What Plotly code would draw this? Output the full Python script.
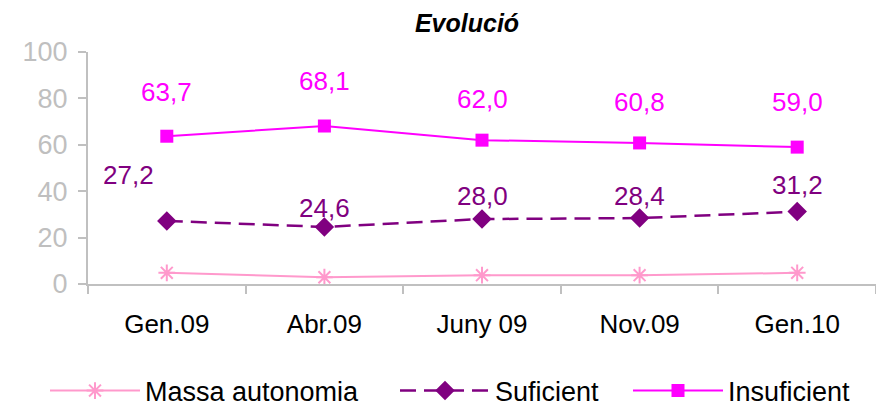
import plotly.graph_objects as go

categories = ["Gen.09", "Abr.09", "Juny 09", "Nov.09", "Gen.10"]
massa_autonomia = [4.8, 2.9, 3.8, 3.8, 4.8]
suficient = [27.2, 24.6, 28.0, 28.4, 31.2]
insuficient = [63.7, 68.1, 62.0, 60.8, 59.0]
y_ticks = [0, 20, 40, 60, 80, 100]

# label placement offsets (pixels) - layout only
suf_label_shift = [(-38, 46), (0, 19), (0, 23), (0, 22), (0, 27)]
ins_label_shift = [(0, 44), (0, 45), (0, 41), (0, 41), (0, 45)]

PINK = "#FF99CC"
PURPLE = "#800080"
MAGENTA = "#FF00FF"
GREY = "#C0C0C0"
FONT = "Liberation Sans, Arial, sans-serif"

fig = go.Figure()
fig.add_trace(go.Scatter(
    x=categories, y=massa_autonomia, name="Massa autonomia", mode="lines+markers",
    line=dict(color=PINK, width=2),
    marker=dict(symbol="asterisk-open", size=14, line=dict(color=PINK, width=2), color=PINK),
    legend="legend",
))
fig.add_trace(go.Scatter(
    x=categories, y=suficient, name="Suficient", mode="lines+markers",
    line=dict(color=PURPLE, width=2.5, dash="16px,8px"),
    marker=dict(symbol="diamond", size=15, color=PURPLE),
    legend="legend2",
))
fig.add_trace(go.Scatter(
    x=categories, y=insuficient, name="Insuficient", mode="lines+markers",
    line=dict(color=MAGENTA, width=2),
    marker=dict(symbol="square", size=13, color=MAGENTA),
    legend="legend3",
))

def fmt(v):
    return f"{v:.1f}".replace(".", ",")

for c, v, (dx, dy) in zip(categories, suficient, suf_label_shift):
    fig.add_annotation(x=c, y=v, text=fmt(v), showarrow=False, xshift=dx, yshift=dy,
                       font=dict(family=FONT, size=26, color=PURPLE))
for c, v, (dx, dy) in zip(categories, insuficient, ins_label_shift):
    fig.add_annotation(x=c, y=v, text=fmt(v), showarrow=False, xshift=dx, yshift=dy,
                       font=dict(family=FONT, size=26, color=MAGENTA))

# page body has an 8px margin: figure drawn at (8, 8) in the window
W, H = 876, 400
L, R, T, B = 80, 8, 44, 124
pw = W - L - R
ph = H - T - B

def px_x(fx):
    return (fx - L) / pw

leg_common = dict(orientation="h", xanchor="left", yanchor="middle",
                  y=(H - B - 383) / ph, itemwidth=90,
                  font=dict(family=FONT, size=27, color="black"),
                  bgcolor="rgba(0,0,0,0)")

fig.update_layout(
    width=W, height=H,
    margin=dict(l=L, r=R, t=T, b=B, autoexpand=False),
    paper_bgcolor="white", plot_bgcolor="white",
    font=dict(family=FONT, color="black"),
    title=dict(text="<b><i>Evolució</i></b>", x=459 / W, xanchor="center", y=1 - 15 / H,
               yanchor="middle",
               font=dict(family=FONT, size=25, color="black")),
    showlegend=True,
    legend=dict(leg_common, x=px_x(37)),
    legend2=dict(leg_common, x=px_x(387)),
    legend3=dict(leg_common, x=px_x(620)),
    xaxis=dict(
        type="category", showline=True, linecolor=GREY, linewidth=2, automargin=False,
        ticks="outside", tickson="boundaries", ticklen=8, tickcolor=GREY, tickwidth=2,
        ticklabelstandoff=16,
        tickfont=dict(family=FONT, size=26, color="black"), showgrid=False, zeroline=False,
        range=[-0.5, 4.5],
    ),
    yaxis=dict(
        range=[0, 100], tickvals=y_ticks, showline=True, linecolor=GREY, linewidth=2,
        automargin=False,
        ticks="outside", ticklen=8, tickcolor=GREY, tickwidth=2, ticklabelstandoff=5,
        tickfont=dict(family=FONT, size=27, color="#BFBFBF"), showgrid=False, zeroline=False,
    ),
)

fig.write_html("out.html")
